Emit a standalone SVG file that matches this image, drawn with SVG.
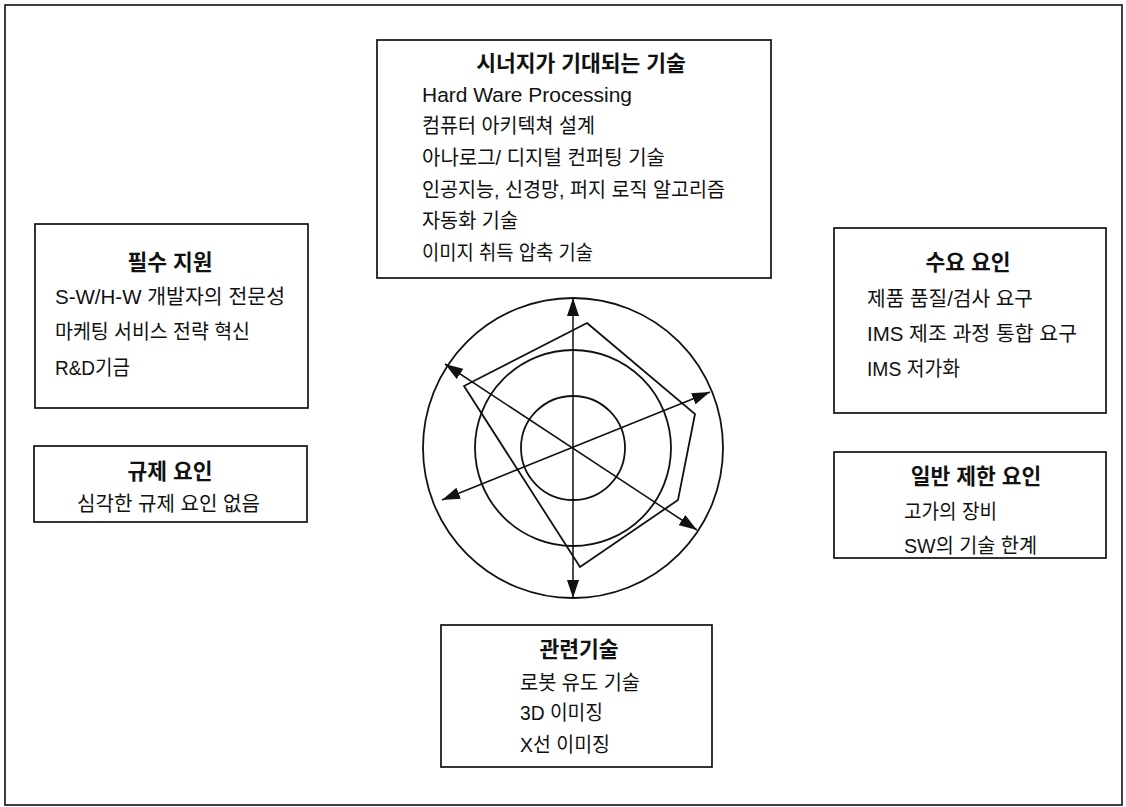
<svg xmlns="http://www.w3.org/2000/svg" width="1126" height="807" viewBox="0 0 1126 807">
<defs>
<style>
.box{fill:#fff;stroke:#111;stroke-width:1.7}
.t{font-family:"Liberation Sans","Noto Sans CJK KR",sans-serif;font-size:20.5px;fill:#111}
.h{font-family:"Liberation Sans","Noto Sans CJK KR",sans-serif;font-size:21.5px;font-weight:bold;fill:#111;text-anchor:middle}
.c{fill:none;stroke:#111;stroke-width:1.8}
.ax{fill:none;stroke:#111;stroke-width:1.5;marker-start:url(#ah);marker-end:url(#ah)}
</style>
<marker id="ah" viewBox="0 0 18 12" refX="18" refY="6" markerWidth="18" markerHeight="12" markerUnits="userSpaceOnUse" orient="auto-start-reverse">
<path d="M0,0 L18,6 L0,12 z" fill="#111"/>
</marker>
</defs>
<rect x="0" y="0" width="1126" height="807" fill="#fff"/>
<rect x="5" y="5" width="1117" height="800" fill="none" stroke="#111" stroke-width="1.6"/>

<g id="radar">
<circle class="c" cx="573" cy="448" r="150"/>
<circle class="c" cx="573" cy="448" r="98"/>
<circle class="c" cx="573" cy="448" r="52"/>
<polygon class="c" points="587,323 695,414 678,500 580,567 464,386"/>
</g>

<g id="connectors">
<line class="ax" x1="573" y1="598" x2="573" y2="298"/>
<line class="ax" x1="697" y1="530" x2="445" y2="364"/>
<line class="ax" x1="442" y1="500" x2="710" y2="392"/>
</g>

<g id="node-synergy">
<rect class="box" x="377" y="40" width="394" height="238"/>
<text class="h" x="581" y="71">시너지가 기대되는 기술</text>
<text class="t" x="422" y="102" textLength="210" lengthAdjust="spacingAndGlyphs">Hard Ware Processing</text>
<text class="t" x="422" y="133" textLength="173" lengthAdjust="spacingAndGlyphs">컴퓨터 아키텍쳐 설계</text>
<text class="t" x="422" y="165" textLength="243" lengthAdjust="spacingAndGlyphs">아나로그/ 디지털 컨퍼팅 기술</text>
<text class="t" x="422" y="197" textLength="303" lengthAdjust="spacingAndGlyphs">인공지능, 신경망, 퍼지 로직 알고리즘</text>
<text class="t" x="422" y="228" textLength="96" lengthAdjust="spacingAndGlyphs">자동화 기술</text>
<text class="t" x="422" y="260" textLength="171" lengthAdjust="spacingAndGlyphs">이미지 취득 압축 기술</text>
</g>

<g id="node-support">
<rect class="box" x="35" y="224" width="273" height="184"/>
<text class="h" x="170" y="270">필수 지원</text>
<text class="t" x="55" y="304" textLength="230" lengthAdjust="spacingAndGlyphs">S-W/H-W 개발자의 전문성</text>
<text class="t" x="55" y="339" textLength="195" lengthAdjust="spacingAndGlyphs">마케팅 서비스 전략 혁신</text>
<text class="t" x="55" y="375" textLength="75" lengthAdjust="spacingAndGlyphs">R&amp;D기금</text>
</g>

<g id="node-regulation">
<rect class="box" x="34" y="446" width="273" height="76"/>
<text class="h" x="170" y="479">규제 요인</text>
<text class="t" x="77" y="511" textLength="183" lengthAdjust="spacingAndGlyphs">심각한 규제 요인 없음</text>
</g>

<g id="node-demand">
<rect class="box" x="834" y="228" width="272" height="185"/>
<text class="h" x="968" y="270">수요 요인</text>
<text class="t" x="867" y="306" textLength="166" lengthAdjust="spacingAndGlyphs">제품 품질/검사 요구</text>
<text class="t" x="867" y="341" textLength="210" lengthAdjust="spacingAndGlyphs">IMS 제조 과정 통합 요구</text>
<text class="t" x="867" y="376" textLength="93" lengthAdjust="spacingAndGlyphs">IMS 저가화</text>
</g>

<g id="node-limits">
<rect class="box" x="834" y="452" width="272" height="106"/>
<text class="h" x="976" y="484">일반 제한 요인</text>
<text class="t" x="904" y="519" textLength="93" lengthAdjust="spacingAndGlyphs">고가의 장비</text>
<text class="t" x="904" y="553" textLength="133" lengthAdjust="spacingAndGlyphs">SW의 기술 한계</text>
</g>

<g id="node-related">
<rect class="box" x="441" y="625" width="271" height="142"/>
<text class="h" x="579" y="657">관련기술</text>
<text class="t" x="520" y="690" textLength="120" lengthAdjust="spacingAndGlyphs">로봇 유도 기술</text>
<text class="t" x="520" y="720" textLength="83" lengthAdjust="spacingAndGlyphs">3D 이미징</text>
<text class="t" x="520" y="752" textLength="90" lengthAdjust="spacingAndGlyphs">X선 이미징</text>
</g>
</svg>
